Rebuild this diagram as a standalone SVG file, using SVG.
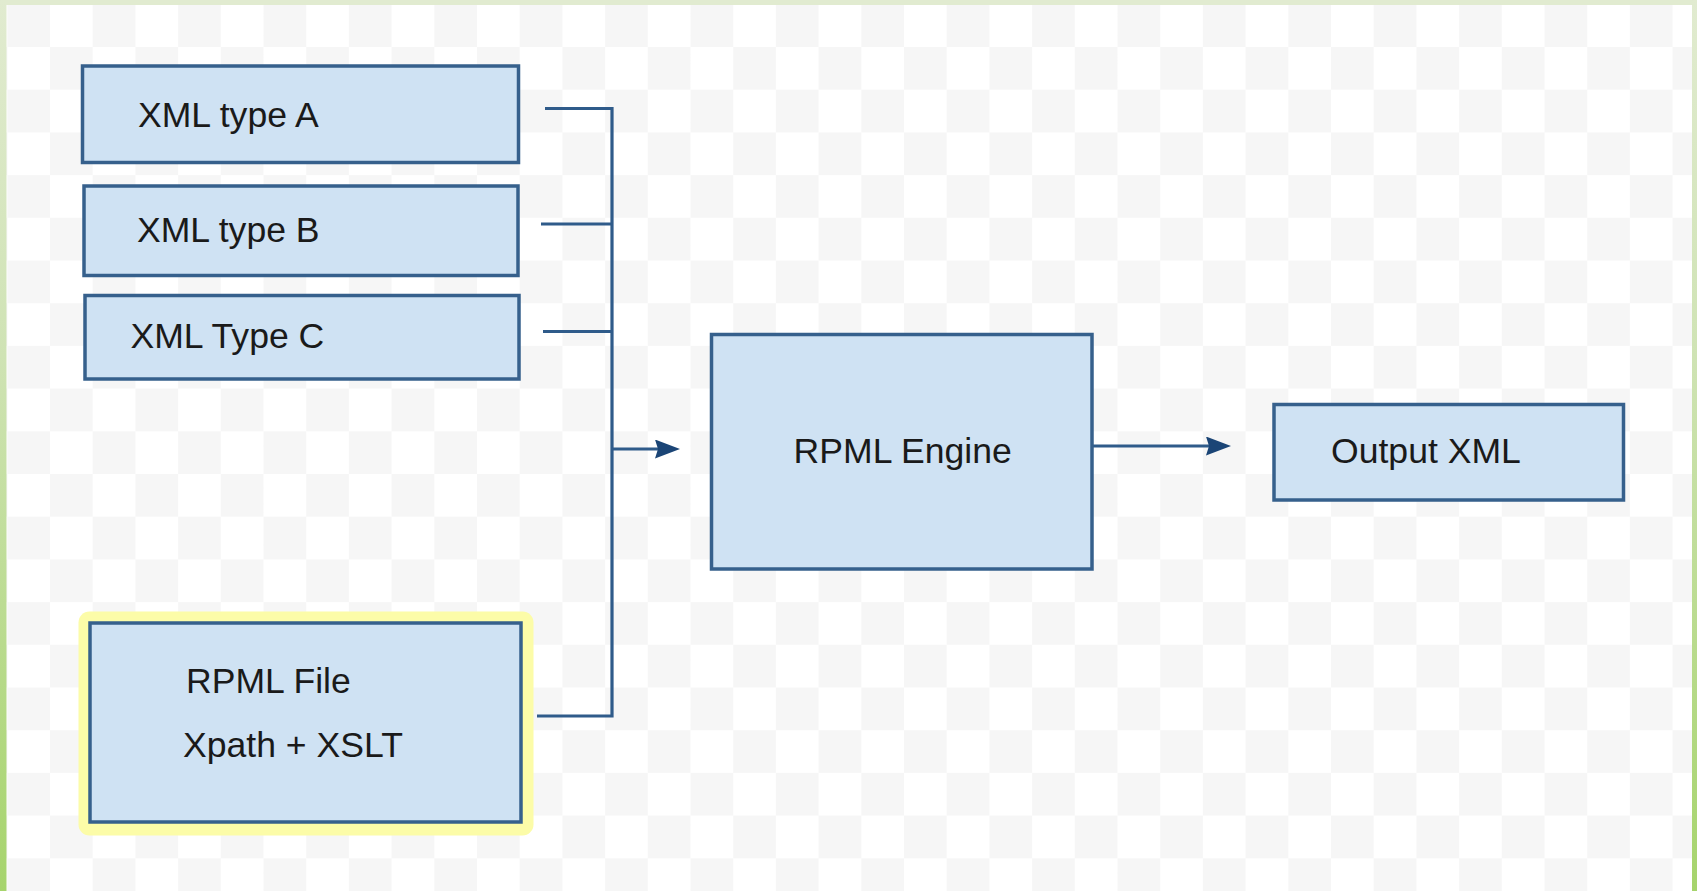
<svg xmlns="http://www.w3.org/2000/svg" width="1697" height="891" viewBox="0 0 1697 891">
<defs>
<style>
.box{fill:#cfe2f3;stroke:#36608c;stroke-width:3.5}
.lbl{font-family:"Liberation Sans",Arial,sans-serif;font-size:35.6px;fill:#1a1a1a}
.con{fill:none;stroke:#2f5b8a;stroke-width:3.2}
</style>
<pattern id="checker" patternUnits="userSpaceOnUse" x="7.3" y="4.3" width="85.4" height="85.4">
<rect x="0" y="0" width="85.4" height="85.4" fill="#ffffff"/>
<rect x="0" y="0" width="42.7" height="42.7" fill="#f6f6f6"/>
<rect x="42.7" y="42.7" width="42.7" height="42.7" fill="#f6f6f6"/>
</pattern>
<linearGradient id="sideL" x1="0" y1="0" x2="0" y2="1">
<stop offset="0" stop-color="#e1ebd0"/>
<stop offset="0.4" stop-color="#cfe3b4"/>
<stop offset="1" stop-color="#a6d46c"/>
</linearGradient>
<marker id="arr" viewBox="0 0 25 19" markerWidth="25" markerHeight="19" refX="4" refY="9.5" orient="auto" markerUnits="userSpaceOnUse">
<path d="M0,0 L25,9.5 L0,19 L3,9.5 Z" fill="#1b4576"/>
</marker>
</defs>
<rect x="0" y="0" width="1697" height="891" fill="url(#checker)"/>
<rect x="0" y="0" width="1697" height="5" fill="#e1ebd0"/>
<rect x="0" y="0" width="6.5" height="891" fill="url(#sideL)"/>
<rect x="1692" y="0" width="5" height="891" fill="url(#sideL)"/>

<g id="connectors">
<path class="con" d="M545,108.5 H612 V716 H537"/>
<path class="con" d="M541,224 H612"/>
<path class="con" d="M543,331.5 H612"/>
<path class="con" d="M612,449 H659" marker-end="url(#arr)"/>
<path class="con" d="M1092,446 H1210" marker-end="url(#arr)"/>
</g>

<g id="xml-type-a">
<rect class="box" x="82.5" y="66" width="436" height="96.5"/>
<text class="lbl" x="138" y="126.7">XML type A</text>
</g>
<g id="xml-type-b">
<rect class="box" x="84" y="186" width="434" height="89.5"/>
<text class="lbl" x="137" y="241.7">XML type B</text>
</g>
<g id="xml-type-c">
<rect class="box" x="85" y="295.5" width="434" height="83.5"/>
<text class="lbl" x="130.5" y="348.3">XML Type C</text>
</g>
<g id="rpml-file">
<rect x="78.5" y="611.5" width="455" height="224" rx="11" fill="#fcfca8"/>
<rect class="box" x="90" y="623" width="431" height="199"/>
<text class="lbl" x="186" y="693.3">RPML File</text>
<text class="lbl" x="183" y="757.3">Xpath + XSLT</text>
</g>
<g id="rpml-engine">
<rect class="box" x="711.5" y="334.5" width="380.5" height="234.5"/>
<text class="lbl" x="793.6" y="463">RPML Engine</text>
</g>
<g id="output-xml">
<rect class="box" x="1274" y="404.5" width="349.5" height="95.5"/>
<text class="lbl" x="1331" y="463">Output XML</text>
</g>
</svg>
